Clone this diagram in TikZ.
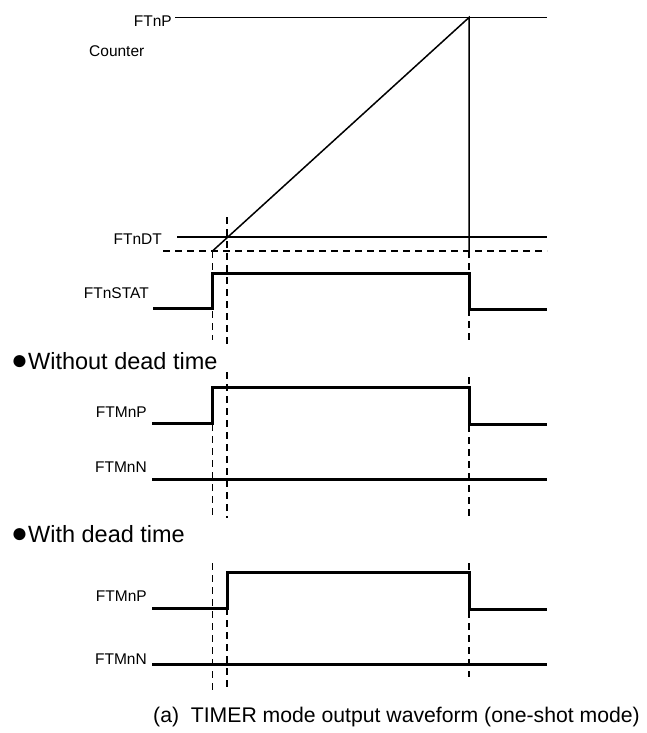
\documentclass[tikz,border=0pt]{standalone}
\usepackage{fontspec}
\setmainfont{Liberation Sans}
\usetikzlibrary{positioning}

\newcommand{\dotmark}{{\fontsize{28}{27}\selectfont ●}}

\begin{document}
\begin{tikzpicture}[x=1pt,y=-1pt,
  lbl/.style={anchor=base east,inner sep=0pt,font=\fontsize{15.5}{18}\selectfont},
  head/.style={anchor=base west,inner sep=0pt,font=\fontsize{23.5}{27}\selectfont},
  captext/.style={anchor=base west,inner sep=0pt,font=\fontsize{21.2}{25}\selectfont},
  thinln/.style={line width=1.5pt},
  wave/.style={line width=3pt,line join=miter},
  guide/.style={line width=1.5pt,dash pattern=on 7pt off 5pt}]
  \useasboundingbox (0,0) rectangle (647,733);
  \coordinate (peak) at (469,17.5);
  \coordinate (zero) at (212.5,251);
  \coordinate (rgt) at (547,0);

  \node[lbl] (ftnp) at (172,27) {FTnP};
  \node[lbl,anchor=base west] (cnt) at (89,57) {Counter};
  \node[lbl] (ftndt) at (162,244) {FTnDT};
  \node[lbl] (stat) at (149,298) {FTnSTAT};
  \node[head] (nodt) at (11,369) {\dotmark Without dead time};
  \node[lbl] (pa) at (147,417) {FTMnP};
  \node[lbl] (na) at (147,472) {FTMnN};
  \node[head] (wdt) at (11,542) {\dotmark With dead time};
  \node[lbl] (pb) at (147,601) {FTMnP};
  \node[lbl] (nb) at (147,664) {FTMnN};
  \node[captext] (title) at (153,722) {(a)\ \ TIMER mode output waveform (one-shot mode)};

  \draw[thinln] (175,17.5) -- (rgt |- peak);
  \draw[thinln] (177,237) -- (547,237);
  \draw[guide] (163,251) -- (547,251);
  \draw[thinln] (zero) -- (peak) -- (469,251);
  \draw[guide] (469,251) -- (469,273);

  \draw[wave] (153,308) -- (212.5,308) -- (212.5,273.5) -- (469,273.5) -- (469,309) -- (547,309);
  \draw[wave] (152,423) -- (212.5,423) -- (212.5,387) -- (469,387) -- (469,424) -- (547,424);
  \draw[wave] (152,479) -- (547,479);
  \draw[wave] (152,608) -- (227,608) -- (227,572) -- (469,572) -- (469,609) -- (547,609);
  \draw[wave] (152,664) -- (547,664);

  \foreach \x/\a/\b in {212.5/251/340, 212.5/388/518, 212.5/563/692,
                        227/217/345, 227/372/518, 227/572/688,
                        469/309/340, 469/377/518, 469/563/677}
    \draw[guide] (\x,\a) -- (\x,\b);
\end{tikzpicture}
\end{document}
